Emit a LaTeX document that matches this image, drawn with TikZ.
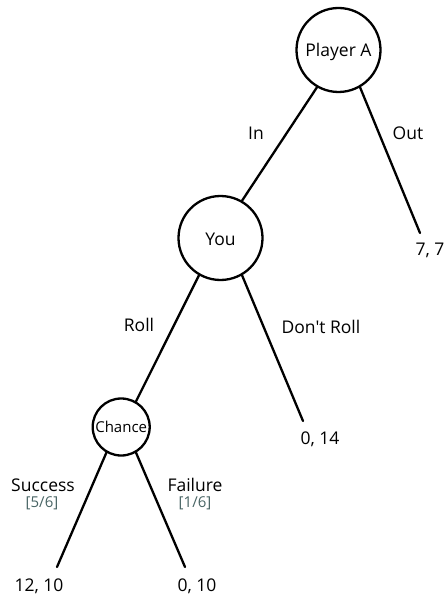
\documentclass[tikz,border=0pt]{standalone}
\usepackage{fontspec}
\setmainfont{Open Sans}[Ligatures=TeXOff]
\definecolor{probcol}{RGB}{72,100,100}
\tikzset{
  treenode/.style={circle, draw=black, line width=2.3pt, fill=white, inner sep=0pt,
                   font=\fontsize{17.5}{20}\selectfont},
  bignode/.style={treenode, minimum size=84pt},
  smallnode/.style={treenode, minimum size=57pt, font=\fontsize{15}{18}\selectfont},
  edge/.style={line width=2.3pt, line cap=round},
  lbl/.style={anchor=base, inner sep=0pt, font=\fontsize{17.5}{20}\selectfont},
  prob/.style={anchor=base, inner sep=0pt, text=probcol, font=\fontsize{15}{18}\selectfont},
}
\begin{document}
\begin{tikzpicture}[x=1pt, y=-1pt]
\useasboundingbox (0,0) rectangle (446,596);
% decision nodes
\node[bignode] (pa) at (338.5,50) {};
\node[lbl] (paT) at (338.5,56.5) {Player A};
\node[bignode] (you) at (220.5,238) {};
\node[lbl] (youT) at (220.5,245) {You};
\node[smallnode] (ch) at (121.2,427) {};
\node[prob, text=black] (chT) at (121.2,432) {Chance};
% leaf ends
\coordinate (out) at (420,233);
\coordinate (dr) at (303,421);
\coordinate (suc) at (57,567);
\coordinate (fail) at (185,567);
% connectors
\draw[edge] (pa.-120) -- (you.60);
\draw[edge] (pa.-60) -- (out);
\draw[edge] (you.-120) -- (ch.60);
\draw[edge] (you.-60) -- (dr);
\draw[edge] (ch.-120) -- (suc);
\draw[edge] (ch.-60) -- (fail);
% action labels
\node[lbl] (lin) at (256,139.5) {In};
\node[lbl] (lout) at (408,139.3) {Out};
\node[lbl] (lroll) at (139,331.7) {Roll};
\node[lbl] (ldr) at (321,333) {Don't Roll};
\node[lbl] (lsuc) at (43,491) {Success};
\node[prob] (psuc) at (42,507.3) {[5/6]};
\node[lbl] (lfail) at (195,491) {Failure};
\node[prob] (pfail) at (195,507.3) {[1/6]};
% payoffs
\node[lbl] (p1) at (430,255) {7, 7};
\node[lbl] (p2) at (320,444) {0, 14};
\node[lbl] (p3) at (39,591) {12, 10};
\node[lbl] (p4) at (197,591) {0, 10};
\end{tikzpicture}
\end{document}
